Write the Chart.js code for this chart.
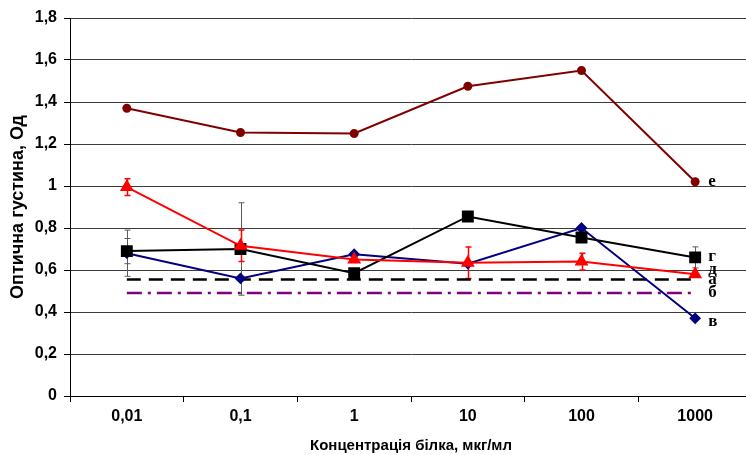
<!DOCTYPE html>
<html>
<head>
<meta charset="utf-8">
<script src="https://cdn.jsdelivr.net/npm/chart.js@4/dist/chart.umd.min.js"></script>
<style>
  html, body { margin: 0; padding: 0; background: #fff; overflow: hidden; }
  #wrap { width: 746px; height: 455px; overflow: hidden; }
  canvas { display: block; }
</style>
</head>
<body>
<div id="wrap"><canvas id="c" width="761" height="455"></canvas></div>
<script>
// Protein concentration, µg/ml
const categories = ['0,01', '0,1', '1', '10', '100', '1000'];
const yTickLabels = ['0', '0,2', '0,4', '0,6', '0,8', '1', '1,2', '1,4', '1,6', '1,8'];

// Optical density series
const seriesE = [1.37, 1.255, 1.25, 1.475, 1.55, 1.02];
const seriesG = [0.69, 0.70, 0.585, 0.855, 0.755, 0.66];
const seriesD = [0.995, 0.715, 0.65, 0.635, 0.64, 0.58];
const seriesV = [0.68, 0.56, 0.675, 0.63, 0.80, 0.37];
const levelA = [0.555, 0.555, 0.555, 0.555, 0.555, 0.555];
const levelB = [0.49, 0.49, 0.49, 0.49, 0.49, 0.49];

// Error half-widths (0 = no bar)
const errG = [0.06, 0.22, 0, 0, 0, 0.05];
const errD = [0.04, 0.075, 0, 0.075, 0.04, 0];
const errV = [0.11, 0, 0, 0, 0, 0];

// Series letters shown at the right end of each line
const seriesNames = ['е', 'г', 'д', 'а', 'б', 'в'];

const errorBars = {
  id: 'errorBars',
  beforeDatasetsDraw(chart) {
    const ctx = chart.ctx;
    const x = chart.scales.x, y = chart.scales.y;
    const sets = [
      { vals: seriesG, err: errG, color: '#5a5a5a', w: 1 },
      { vals: seriesV, err: errV, color: '#5a5a5a', w: 1 },
      { vals: seriesD, err: errD, color: '#ff0000', w: 1.5 }
    ];
    ctx.save();
    sets.forEach(s => {
      ctx.strokeStyle = s.color;
      ctx.lineWidth = s.w;
      s.vals.forEach((v, i) => {
        if (!s.err[i]) return;
        const px = Math.round(x.getPixelForValue(i)) + 0.5;
        const top = y.getPixelForValue(v + s.err[i]);
        const bot = y.getPixelForValue(v - s.err[i]);
        ctx.beginPath();
        ctx.moveTo(px, top); ctx.lineTo(px, bot);
        ctx.moveTo(px - 3, top); ctx.lineTo(px + 3, top);
        ctx.moveTo(px - 3, bot); ctx.lineTo(px + 3, bot);
        ctx.stroke();
      });
    });
    ctx.restore();
  }
};

const endLabels = {
  id: 'endLabels',
  afterDatasetsDraw(chart) {
    const ctx = chart.ctx;
    const x = chart.scales.x, y = chart.scales.y;
    const last = categories.length - 1;
    const px = x.getPixelForValue(last) + 13;
    const ends = [seriesE[last], seriesG[last], seriesD[last], levelA[last], levelB[last], seriesV[last]];
    const nudge = [0, -1, -5, 0, 0, 3];
    ctx.save();
    ctx.fillStyle = '#000';
    ctx.font = 'bold 17px "Liberation Serif", "Times New Roman", serif';
    ctx.textAlign = 'left';
    ctx.textBaseline = 'middle';
    seriesNames.forEach((n, i) => {
      ctx.fillText(n, px, y.getPixelForValue(ends[i]) + nudge[i]);
    });
    ctx.restore();
  }
};

new Chart(document.getElementById('c'), {
  type: 'line',
  data: {
    labels: categories,
    datasets: [
      { label: 'е', data: seriesE, borderColor: '#800000', backgroundColor: '#800000',
        borderWidth: 2, pointStyle: 'circle', pointRadius: 3.5, tension: 0 },
      { label: 'д', data: seriesD, borderColor: '#ff0000', backgroundColor: '#ff0000',
        borderWidth: 2, pointStyle: 'triangle', pointRadius: 6, tension: 0 },
      { label: 'г', data: seriesG, borderColor: '#000000', backgroundColor: '#000000',
        borderWidth: 2, pointStyle: 'rect', pointRadius: 7, tension: 0 },
      { label: 'в', data: seriesV, borderColor: '#000080', backgroundColor: '#000080',
        borderWidth: 2, pointStyle: 'rectRot', pointRadius: 4.5, tension: 0 },
      { label: 'а', data: levelA, borderColor: '#000000', borderWidth: 2.5,
        borderDash: [14, 8], pointRadius: 0, tension: 0 },
      { label: 'б', data: levelB, borderColor: '#800080', borderWidth: 2.5,
        borderDash: [15, 6, 3, 6], pointRadius: 0, tension: 0 }
    ]
  },
  options: {
    responsive: false,
    animation: false,
    layout: { padding: { top: 18, right: 4, left: 0, bottom: 0 } },
    plugins: { legend: { display: false }, tooltip: { enabled: false } },
    scales: {
      x: {
        offset: true,
        grid: { offset: true, drawOnChartArea: false, color: '#000', tickLength: 6 },
        border: { color: '#000', width: 1 },
        ticks: {
          color: '#000', padding: 5,
          font: { family: '"Liberation Sans Narrow", "Arial Narrow", "Liberation Sans", sans-serif', size: 16, weight: 'bold' }
        },
        title: {
          display: true, text: 'Концентрація білка, мкг/мл', color: '#000',
          padding: { top: 0, bottom: 0 },
          font: { family: '"Liberation Sans Narrow", "Arial Narrow", "Liberation Sans", sans-serif', size: 15, weight: 'bold' }
        },
        afterFit(scale) { scale.height = 59; }
      },
      y: {
        min: 0, max: 1.8,
        grid: { color: '#3c3c3c', lineWidth: 1, tickLength: 6, tickColor: '#000' },
        border: { color: '#000', width: 1 },
        ticks: {
          stepSize: 0.2, color: '#000', padding: 7,
          font: { family: '"Liberation Sans", Arial, sans-serif', size: 16, weight: 'bold' },
          callback: (v, i) => yTickLabels[i]
        },
        title: {
          display: true, text: 'Оптична густина, Од', color: '#000',
          padding: { top: 7, bottom: 0 },
          font: { family: '"Liberation Sans", Arial, sans-serif', size: 18, weight: 'bold' }
        },
        afterFit(scale) { scale.width = 70; }
      }
    }
  },
  plugins: [errorBars, endLabels]
});
</script>
</body>
</html>
